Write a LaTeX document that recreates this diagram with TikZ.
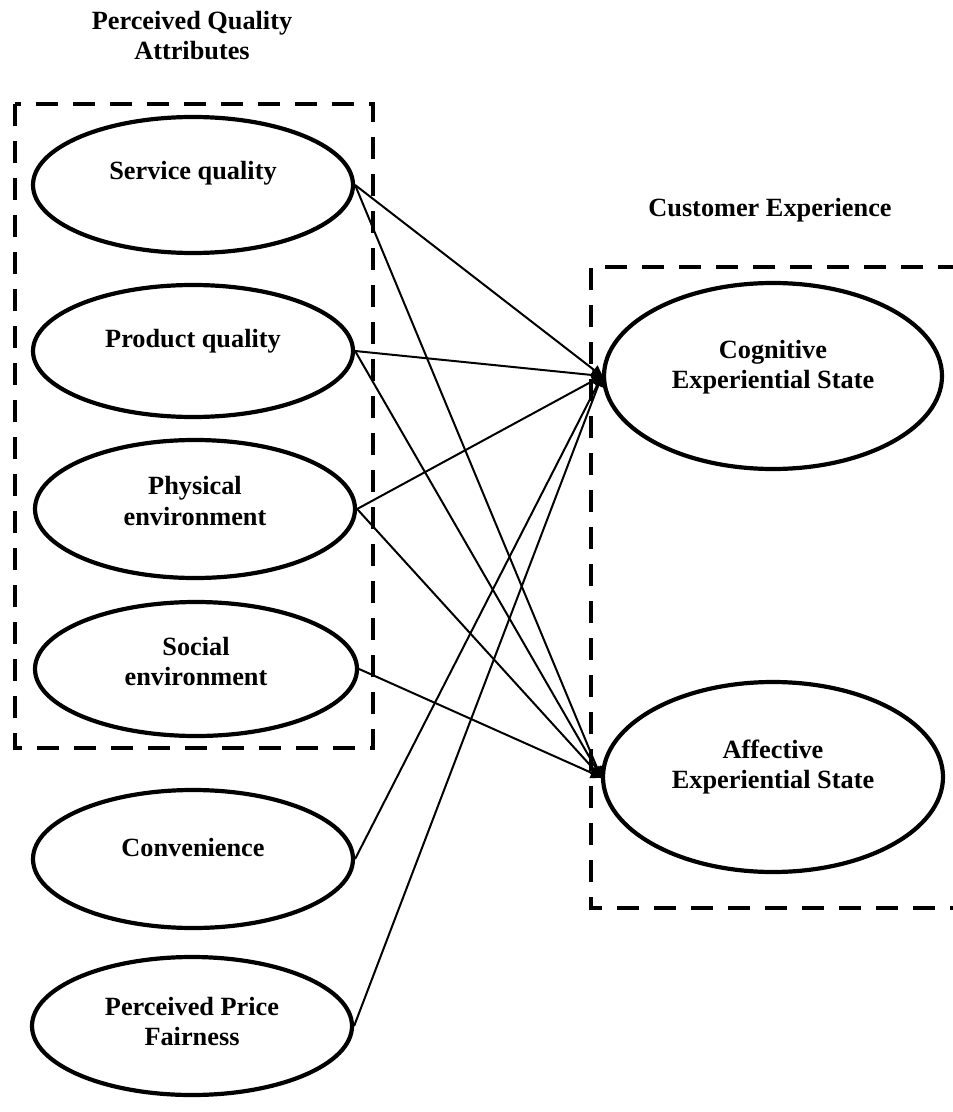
\documentclass[tikz,border=0pt]{standalone}
\usepackage{fontspec}
\setmainfont{Liberation Serif}
\usetikzlibrary{arrows.meta,shapes.geometric}

\tikzset{
  oval/.style={draw, ellipse, line width=2.1pt, inner sep=0pt},
  lbl/.style={font=\bfseries\fontsize{13.15pt}{15pt}\selectfont, align=center, inner sep=0pt},
  groupbox/.style={draw, line width=2.4pt, dash pattern=on 11pt off 7.5pt},
  conn/.style={line width=1pt, -{Triangle[length=6pt,width=5.5pt]}, shorten >=-1pt}
}

\begin{document}
\begin{tikzpicture}[x=0.5pt, y=-0.5pt]
  \useasboundingbox (0,0) rectangle (952,1112);

  % group frames
  \draw[groupbox] (15,104) rectangle (373,748);
  \draw[groupbox] (960,267) -- (591,267) -- (591,908) -- (960,908);

  % group headings
  \node[lbl] (hpq) at (192,36) {Perceived Quality\\Attributes};
  \node[lbl, anchor=base] (hce) at (770,217) {Customer Experience};

  % antecedent constructs
  \node[oval, minimum width=160pt, minimum height=68pt] (sq) at (193,185) {};
  \node[oval, minimum width=160pt, minimum height=66pt] (pq) at (193,351) {};
  \node[oval, minimum width=160pt, minimum height=69pt] (pe) at (195,509) {};
  \node[oval, minimum width=161pt, minimum height=67pt] (se) at (196,669) {};
  \node[oval, minimum width=160pt, minimum height=69pt] (cv) at (193,859) {};
  \node[oval, minimum width=160pt, minimum height=69pt] (pf) at (192,1026) {};

  % outcome constructs
  \node[oval, minimum width=169pt, minimum height=93pt] (ce) at (773,376) {};
  \node[oval, minimum width=170pt, minimum height=95pt] (ae) at (773,777) {};

  % construct labels
  \node[lbl, anchor=base] (sqt) at (193,180) {Service quality};
  \node[lbl, anchor=base] (pqt) at (193,348) {Product quality};
  \node[lbl] (pet) at (195,501) {Physical\\environment};
  \node[lbl] (set) at (196,661) {Social\\environment};
  \node[lbl, anchor=base] (cvt) at (193,856) {Convenience};
  \node[lbl] (pft) at (192,1021) {Perceived Price\\Fairness};
  \node[lbl] (cet) at (773,367) {Cognitive\\Experiential State};
  \node[lbl] (aet) at (773,767) {Affective\\Experiential State};

  % paths to the cognitive state
  \draw[conn] (sq.east) -- (ce.west);
  \draw[conn] (pq.east) -- (ce.west);
  \draw[conn] (pe.east) -- (ce.west);
  \draw[conn] (cv.east) -- (ce.west);
  \draw[conn] (pf.east) -- (ce.west);

  % paths to the affective state
  \draw[conn] (sq.east) -- (ae.west);
  \draw[conn] (pq.east) -- (ae.west);
  \draw[conn] (pe.east) -- (ae.west);
  \draw[conn] (se.east) -- (ae.west);
\end{tikzpicture}
\end{document}
